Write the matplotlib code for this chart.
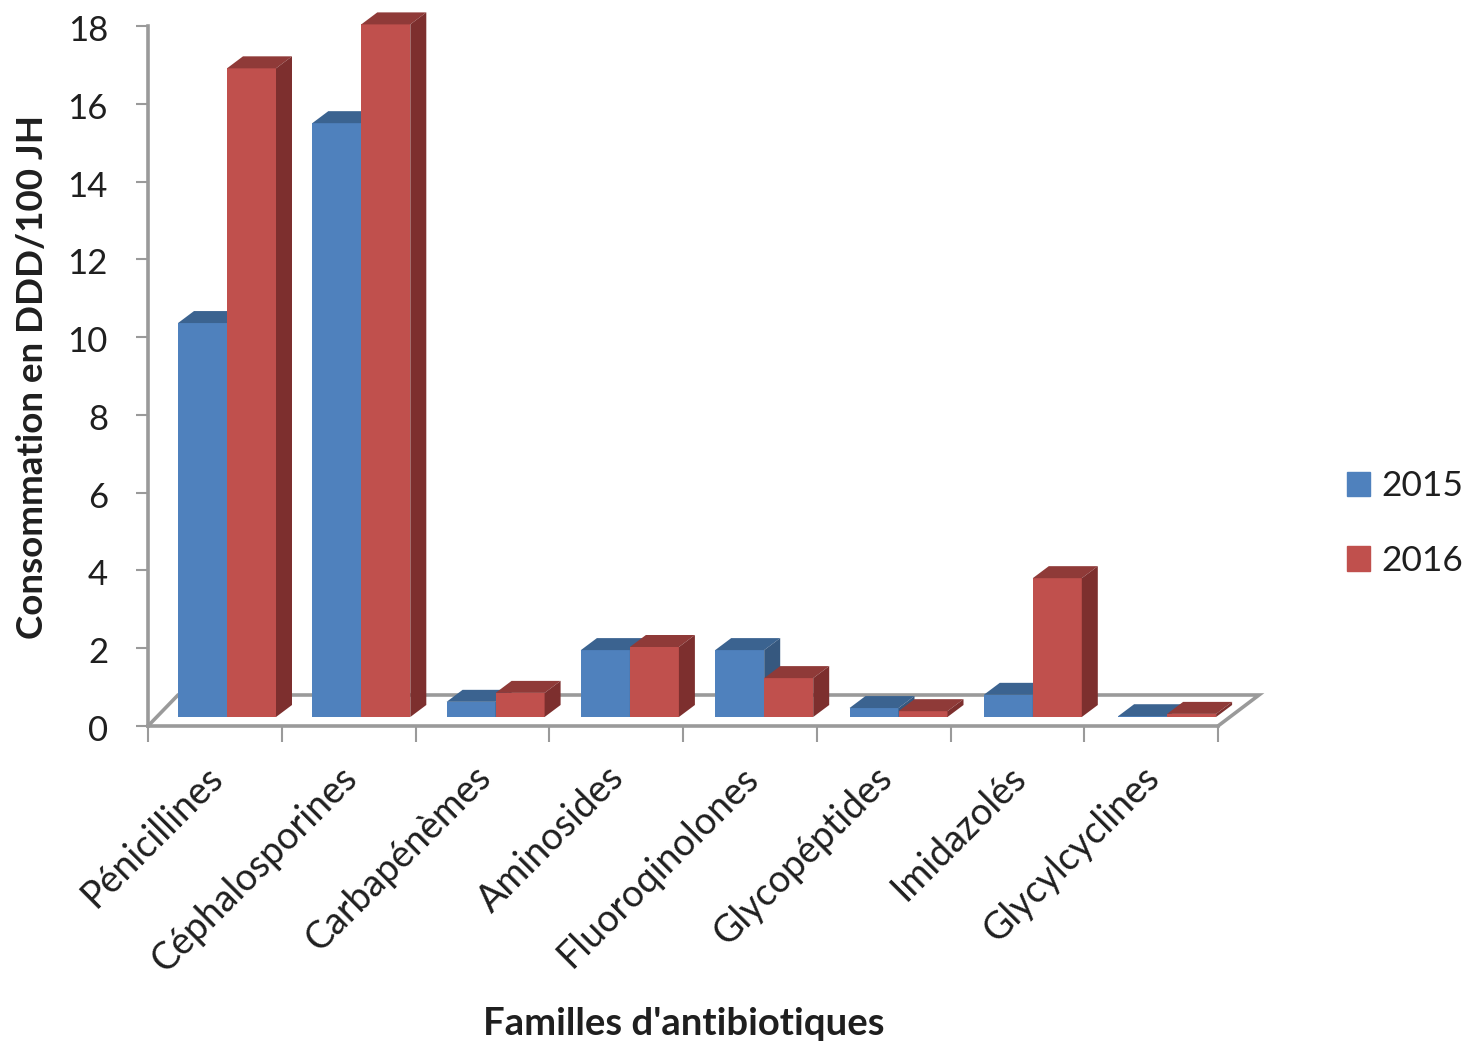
import matplotlib
matplotlib.use("Agg")
import matplotlib.pyplot as plt
from matplotlib.patches import Polygon, Patch
from matplotlib.ticker import FixedLocator, NullFormatter
from matplotlib.transforms import ScaledTranslation
import numpy as np

categories = ["Pénicillines", "Céphalosporines", "Carbapénèmes", "Aminosides",
              "Fluoroqinolones", "Glycopéptides", "Imidazolés", "Glycylcyclines"]
values_2015 = [10.13, 15.27, 0.39, 1.72, 1.72, 0.23, 0.57, 0.02]
values_2016 = [16.68, 17.81, 0.62, 1.80, 1.00, 0.15, 3.57, 0.08]
y_ticks = list(range(0, 20, 2))

W, H = 1468, 1041
X0, X1, Y0, Y18 = 148, 1218, 726, 26
plt.rcParams['font.family'] = ['Lato', 'DejaVu Sans']
TXT = "#1f1f1f"
GREY = "#9a9a9a"
PT = 72 / 100  # points per pixel

fig = plt.figure(figsize=(W / 100, H / 100), dpi=100)
ax = fig.add_axes([X0 / W, 1 - Y0 / H, (X1 - X0) / W, (Y0 - Y18) / H])
ax.set_xlim(0, 8)
ax.set_ylim(0, 18)
px = 8 / (X1 - X0)
py = 18 / (Y0 - Y18)

for s in ("top", "right"):
    ax.spines[s].set_visible(False)
for s in ("left", "bottom"):
    ax.spines[s].set_color(GREY)
    ax.spines[s].set_linewidth(2.6)

ax.set_yticks(y_ticks)
ax.tick_params(axis="y", length=12 * PT, width=1.5, color=GREY, labelsize=25, labelcolor=TXT,
               pad=28 * PT)
ax.xaxis.set_major_locator(FixedLocator(np.arange(0, 9)))
ax.xaxis.set_major_formatter(NullFormatter())
ax.tick_params(axis="x", which="major", length=16 * PT, width=1.5, color=GREY)
ax.xaxis.set_minor_locator(FixedLocator(np.arange(8) + 0.5))
ax.set_xticklabels(categories, minor=True, rotation=45, ha="right", va="top",
                   rotation_mode="anchor", fontsize=27, color=TXT)
ax.tick_params(axis="x", which="minor", length=0, pad=24)
shift = ScaledTranslation(-10 / 100, 0, fig.dpi_scale_trans)
for lab in ax.xaxis.get_ticklabels(minor=True):
    lab.set_transform(lab.get_transform() + shift)
shift_y = ScaledTranslation(0, -2 / 100, fig.dpi_scale_trans)
for lab in ax.yaxis.get_ticklabels():
    lab.set_transform(lab.get_transform() + shift_y)

# floor outline (3D effect)
bx, by = 41 * px, 31 * py
ax.plot([0, 30 * px, 8 + bx, 8], [0, by, by, 0], color=GREY, lw=2.6, clip_on=False,
        solid_joinstyle="miter", zorder=1)

# bars
base = 9 * py
bw = 49 * px
start = 30 * px
step = 134.3 * px
dx, dy = 16 * px, 12 * py
colors = {"2015": ("#4f81bd", "#3b6390", "#36587f"), "2016": ("#c0504d", "#8f3a38", "#7d2f2e")}


def draw_bar(x, h, cols):
    front, top, side = cols
    ax.bar(x, h, bw, bottom=base, align="edge", color=front, edgecolor="none", zorder=3, clip_on=False)
    t = base + h
    ax.add_patch(Polygon([(x, t), (x + dx, t + dy), (x + bw + dx, t + dy), (x + bw, t)],
                         closed=True, fc=top, ec="none", zorder=3, clip_on=False))
    ax.add_patch(Polygon([(x + bw, base), (x + bw + dx, base + dy), (x + bw + dx, t + dy), (x + bw, t)],
                         closed=True, fc=side, ec="none", zorder=3, clip_on=False))


for i, (a, b) in enumerate(zip(values_2015, values_2016)):
    draw_bar(i * step + start, a, colors["2015"])
    draw_bar(i * step + start + bw, b, colors["2016"])

ax.set_ylabel("Consommation en DDD/100 JH", fontsize=26.5, fontweight="bold", color=TXT)
ax.yaxis.label.set_verticalalignment("center")
ax.yaxis.set_label_coords((33 - X0) / (X1 - X0), (Y0 - 377) / (Y0 - Y18))
ax.set_xlabel("Familles d'antibiotiques", fontsize=27.5, fontweight="bold", color=TXT)
ax.xaxis.label.set_verticalalignment("center")
ax.xaxis.set_label_coords((684 - X0) / (X1 - X0), (Y0 - 1024) / (Y0 - Y18))

handles = [Patch(color=colors["2015"][0], label="2015"), Patch(color=colors["2016"][0], label="2016")]
fig.legend(handles=handles, loc="center left", bbox_to_anchor=(1347 / W, 1 - 523.5 / H), frameon=False,
           borderpad=0, borderaxespad=0, fontsize=25.5, handlelength=0.65, handleheight=0.7,
           handletextpad=0.31, labelspacing=1.19, labelcolor=TXT)

fig.savefig("out.png", dpi=100)
